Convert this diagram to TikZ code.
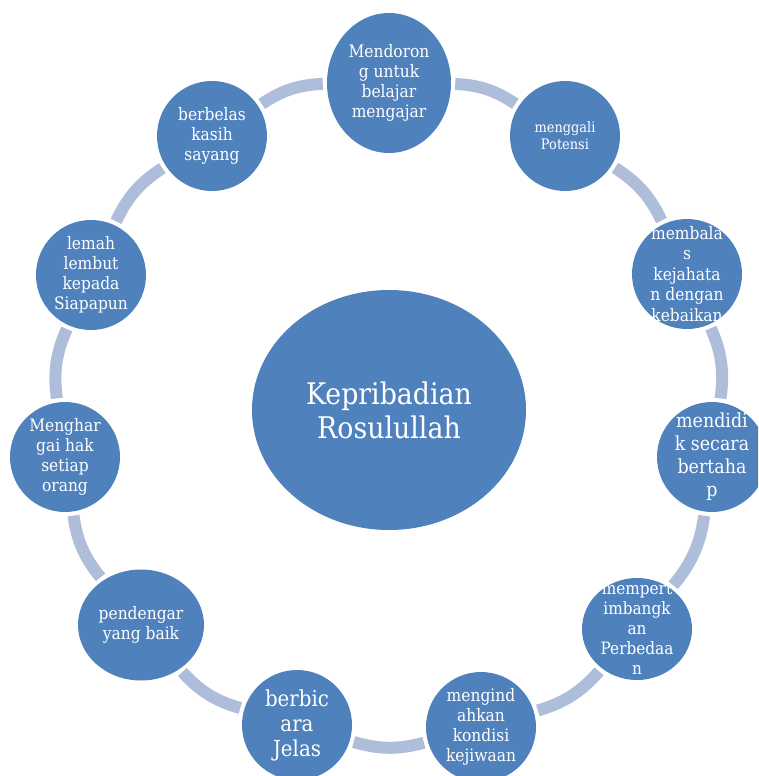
\documentclass[tikz,border=0pt]{standalone}
\usepackage{fontspec}
\setmainfont{DejaVu Serif}[FakeStretch=0.9]
\usetikzlibrary{shapes.geometric}
\definecolor{nodeblue}{RGB}{79,129,189}
\definecolor{ringblue}{RGB}{174,190,218}
\tikzset{
  item/.style={ellipse, fill=nodeblue, inner sep=0pt,
    minimum width=110pt, minimum height=110pt},
  lbl/.style={text=white, align=center, inner sep=0pt},
  txt/.style={font=\fontsize{17.2}{20}\selectfont},
  conn/.style={draw=ringblue, line width=12pt, shorten >=4pt, shorten <=4pt, bend left=16}
}
\begin{document}
\begin{tikzpicture}[x=1pt,y=-1pt]
\useasboundingbox (0,0) rectangle (758,776);
\clip (0,0) rectangle (758,776);
\node[item, minimum width=274pt, minimum height=240pt] (c) at (389,410) {};
\node[item, minimum width=124pt, minimum height=140pt] (m1) at (389,83) {};
\node[item] (m2) at (565,136) {};
\node[item] (m3) at (687,274) {};
\node[item] (m4) at (712,457) {};
\node[item, minimum height=102pt] (m5) at (637,629) {};
\node[item] (m6) at (481,727) {};
\node[item] (m7) at (297,725) {};
\node[item, minimum width=126pt, minimum height=111pt] (m8) at (141,625) {};
\node[item] (m9) at (65,457) {};
\node[item] (m10) at (91,275) {};
\node[item] (m11) at (212,136) {};
\node[lbl, font=\fontsize{29.8}{34}\selectfont] (tc) at (c) {Kepribadian\\Rosulullah};
\node[lbl, txt] (t1) at (m1) {Mendoron\\g untuk\\belajar\\mengajar};
\node[lbl, font=\fontsize{14.4}{17}\selectfont] (t2) at (m2) {menggali\\Potensi};
\node[lbl, font=\fontsize{17.2}{20.5}\selectfont] (t3) at (m3) {membala\\s\\kejahata\\n dengan\\kebaikan};
\node[lbl, font=\fontsize{19.4}{23}\selectfont] (t4) at (m4) {mendidi\\k secara\\bertaha\\p};
\node[lbl, font=\fontsize{17}{20}\selectfont] (t5) at (m5) {mempert\\imbangk\\an\\Perbedaa\\n};
\node[lbl, txt] (t6) at (m6) {mengind\\ahkan\\kondisi\\kejiwaan};
\node[lbl, font=\fontsize{22}{25}\selectfont] (t7) at (m7) {berbic\\ara\\Jelas};
\node[lbl, txt] (t8) at (m8) {pendengar\\yang baik};
\node[lbl, txt] (t9) at (m9) {Menghar\\gai hak\\setiap\\orang};
\node[lbl, txt] (t10) at (m10) {lemah\\lembut\\kepada\\Siapapun};
\node[lbl, txt] (t11) at (m11) {berbelas\\kasih\\sayang};
\draw[conn] (m1) to (m2);
\draw[conn] (m2) to (m3);
\draw[conn] (m3) to (m4);
\draw[conn] (m4) to (m5);
\draw[conn] (m5) to (m6);
\draw[conn] (m6) to (m7);
\draw[conn] (m7) to (m8);
\draw[conn] (m8) to (m9);
\draw[conn] (m9) to (m10);
\draw[conn] (m10) to (m11);
\draw[conn] (m11) to (m1);
\end{tikzpicture}
\end{document}
